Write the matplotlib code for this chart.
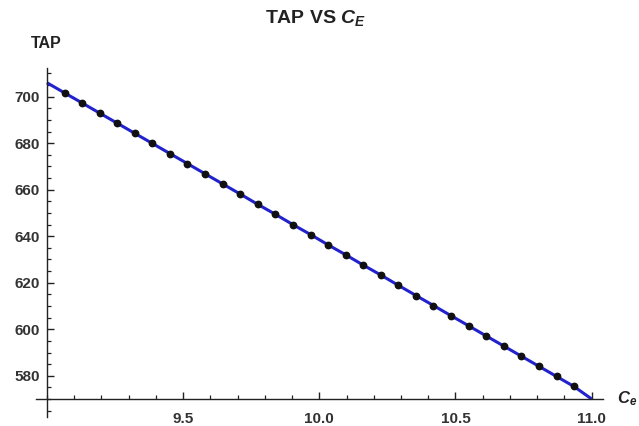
import matplotlib
matplotlib.use("Agg")
import matplotlib.pyplot as plt
from matplotlib.ticker import MultipleLocator, FixedLocator

# curve TAP vs C_E
ce = [9.000, 9.065, 9.129, 9.194, 9.258, 9.323, 9.387, 9.452, 9.516, 9.581,
      9.645, 9.710, 9.774, 9.839, 9.903, 9.968, 10.032, 10.097, 10.161, 10.226,
      10.290, 10.355, 10.419, 10.484, 10.548, 10.613, 10.677, 10.742, 10.806,
      10.871, 10.935, 11.000]
tap = [706.0, 701.6, 697.3, 692.9, 688.6, 684.2, 679.9, 675.5, 671.2, 666.8,
       662.5, 658.1, 653.7, 649.4, 645.0, 640.7, 636.3, 632.0, 627.6, 623.3,
       618.9, 614.5, 610.2, 605.8, 601.5, 597.1, 592.8, 588.4, 584.1, 579.7,
       575.4, 570.0]
# sample points drawn as dots (interior ones)
pt_ce = ce[1:-1]
pt_tap = tap[1:-1]

x_major = [9.5, 10.0, 10.5, 11.0]
y_major = [580, 600, 620, 640, 660, 680, 700]

plt.rcParams["font.family"] = ["Liberation Sans", "DejaVu Sans"]
plt.rcParams["mathtext.fontset"] = "custom"
plt.rcParams["mathtext.it"] = "Liberation Sans:italic:bold"
plt.rcParams["mathtext.rm"] = "Liberation Sans:bold"

fig = plt.figure(figsize=(6.39, 4.26), dpi=100)
ax = fig.add_axes([0.0563, 0.0218, 0.888, 0.818])

ax.plot(ce, tap, color="#2222cc", linewidth=2.2, zorder=2, solid_capstyle="butt")
ax.plot(pt_ce, pt_tap, "o", color="#111111", markersize=4.6, zorder=3)

ax.set_xlim(8.96, 11.043)
ax.set_ylim(562.4, 712.2)

for s in ("top", "right"):
    ax.spines[s].set_visible(False)
ax.spines["left"].set_position(("data", 9.0))
ax.spines["bottom"].set_position(("data", 570.0))
for s in ("left", "bottom"):
    ax.spines[s].set_linewidth(1.0)
    ax.spines[s].set_color("#222222")

ax.xaxis.set_major_locator(FixedLocator(x_major))
ax.xaxis.set_minor_locator(MultipleLocator(0.1))
ax.yaxis.set_major_locator(FixedLocator(y_major))
ax.yaxis.set_minor_locator(MultipleLocator(5))
ax.set_xticklabels([f"{v:.1f}" for v in x_major])
ax.set_yticklabels([str(v) for v in y_major])

ax.tick_params(axis="both", which="major", direction="in", length=5, width=1.0,
               color="#222222", labelsize=11, labelcolor="#333333")
ax.tick_params(axis="both", which="minor", direction="in", length=3, width=0.9,
               color="#222222")
ax.tick_params(axis="x", which="major", pad=9)
ax.tick_params(axis="y", which="major", pad=5)
for lab in ax.get_xticklabels() + ax.get_yticklabels():
    lab.set_fontweight("bold")

# axis labels in Mathematica style
fig.text(46 / 639, 1 - 44 / 426, "TAP", ha="center", va="center",
         fontsize=11.5, fontweight="bold", color="#222222")
fig.text(617 / 639, 1 - 399 / 426, "$C_e$", ha="left", va="center",
         fontsize=12, color="#222222")
fig.text(316 / 639, 1 - 18 / 426, "TAP VS $C_E$", ha="center", va="center",
         fontsize=14, fontweight="bold", color="#222222")

fig.savefig("out.png", dpi=100)
